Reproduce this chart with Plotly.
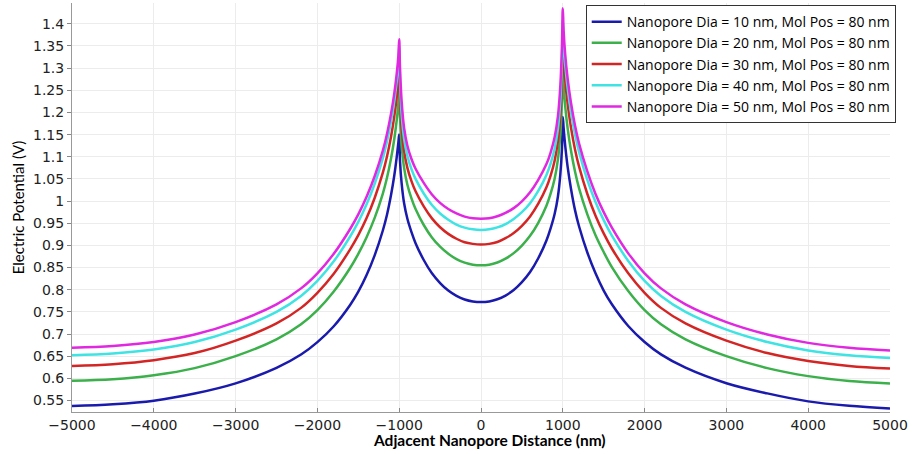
import plotly.graph_objects as go

# Adjacent nanopore distance (nm)
distance = [
    -5000, -4500, -4000, -3500, -3000, -2500, -2200, -2000, -1800, -1600,
    -1500, -1400, -1300, -1200, -1150, -1100, -1060, -1030, -1010, -1000,
    -990, -970, -940, -900, -850, -800, -700, -600, -500, -400, -300, -200, -100, 0,
    100, 200, 300, 400, 500, 600, 700, 800, 850, 900, 940, 970, 990, 1000,
    1010, 1030, 1060, 1100, 1150, 1200, 1300, 1400, 1500, 1600, 1800, 2000,
    2200, 2500, 3000, 3500, 4000, 4500, 5000,
]

# Electric potential (V) for each nanopore diameter
dia_10 = [
    0.5376, 0.5416, 0.5496, 0.5656, 0.5886, 0.6236, 0.6536, 0.6816, 0.7176, 0.7656,
    0.7956, 0.8326, 0.8776, 0.9336, 0.9686, 1.0136, 1.0576, 1.0996, 1.1326, 1.15,
    1.09, 1.04, 0.995, 0.96, 0.93, 0.905, 0.867, 0.837, 0.815, 0.798, 0.786, 0.778, 0.7735, 0.772,
    0.7735, 0.7784, 0.7868, 0.7992, 0.817, 0.8398, 0.871, 0.911, 0.938, 0.9708, 1.0098, 1.0608, 1.12, 1.19,
    1.165, 1.124, 1.076, 1.028, 0.979, 0.942, 0.884, 0.837, 0.798, 0.767, 0.718, 0.682,
    0.654, 0.624, 0.589, 0.566, 0.548, 0.538, 0.532,
]
dia_20 = [
    0.5945, 0.598, 0.607, 0.623, 0.650, 0.688, 0.722, 0.754, 0.796, 0.849,
    0.881, 0.918, 0.962, 1.017, 1.052, 1.096, 1.140, 1.183, 1.221, 1.26,
    1.19, 1.125, 1.075, 1.037, 1.006, 0.982, 0.946, 0.918, 0.897, 0.881, 0.869, 0.861, 0.8565, 0.855,
    0.8565, 0.8615, 0.870, 0.8825, 0.8995, 0.9215, 0.951, 0.9895, 1.016, 1.0505, 1.0935, 1.151, 1.2275, 1.31,
    1.261, 1.213, 1.163, 1.114, 1.066, 1.028, 0.970, 0.923, 0.885, 0.851, 0.797, 0.754,
    0.722, 0.688, 0.650, 0.623, 0.605, 0.594, 0.5885,
]
dia_30 = [
    0.628, 0.632, 0.641, 0.657, 0.685, 0.724, 0.759, 0.793, 0.836, 0.891,
    0.923, 0.961, 1.007, 1.064, 1.100, 1.145, 1.191, 1.235, 1.274, 1.31,
    1.235, 1.165, 1.113, 1.075, 1.045, 1.022, 0.988, 0.961, 0.941, 0.926, 0.915, 0.907, 0.9034, 0.902,
    0.9034, 0.9076, 0.9162, 0.9278, 0.944, 0.9652, 0.994, 1.031, 1.057, 1.0912, 1.1352, 1.1962, 1.28, 1.37,
    1.322, 1.271, 1.218, 1.166, 1.116, 1.077, 1.016, 0.967, 0.927, 0.893, 0.837, 0.793,
    0.759, 0.724, 0.685, 0.657, 0.639, 0.628, 0.622,
]
dia_40 = [
    0.652, 0.656, 0.665, 0.682, 0.710, 0.750, 0.786, 0.820, 0.864, 0.920,
    0.953, 0.992, 1.039, 1.097, 1.134, 1.180, 1.226, 1.271, 1.311, 1.35,
    1.27, 1.195, 1.14, 1.102, 1.072, 1.05, 1.017, 0.991, 0.972, 0.958, 0.947, 0.94, 0.9363, 0.935,
    0.9363, 0.9406, 0.9482, 0.9598, 0.975, 0.9952, 1.023, 1.059, 1.084, 1.1182, 1.1622, 1.2262, 1.315, 1.41,
    1.359, 1.307, 1.253, 1.201, 1.150, 1.110, 1.048, 0.998, 0.957, 0.922, 0.865, 0.820,
    0.786, 0.750, 0.710, 0.682, 0.663, 0.652, 0.646,
]
dia_50 = [
    0.669, 0.673, 0.682, 0.699, 0.727, 0.767, 0.803, 0.837, 0.881, 0.937,
    0.970, 1.009, 1.056, 1.114, 1.151, 1.197, 1.243, 1.288, 1.328, 1.365,
    1.30, 1.225, 1.165, 1.125, 1.095, 1.073, 1.041, 1.015, 0.996, 0.982, 0.972, 0.965, 0.961, 0.96,
    0.961, 0.9657, 0.9734, 0.9841, 0.9995, 1.0199, 1.048, 1.0835, 1.109, 1.1439, 1.1909, 1.2614, 1.3525, 1.435,
    1.384, 1.330, 1.275, 1.222, 1.170, 1.129, 1.067, 1.016, 0.975, 0.940, 0.882, 0.837,
    0.803, 0.767, 0.727, 0.699, 0.680, 0.669, 0.663,
]

series_names = [
    "Nanopore Dia = 10 nm, Mol Pos = 80 nm",
    "Nanopore Dia = 20 nm, Mol Pos = 80 nm",
    "Nanopore Dia = 30 nm, Mol Pos = 80 nm",
    "Nanopore Dia = 40 nm, Mol Pos = 80 nm",
    "Nanopore Dia = 50 nm, Mol Pos = 80 nm",
]
series_values = [dia_10, dia_20, dia_30, dia_40, dia_50]
series_colors = ["#1a1aad", "#3bb04b", "#d42525", "#3fe3e3", "#e028e0"]

y_ticks = [0.55, 0.6, 0.65, 0.7, 0.75, 0.8, 0.85, 0.9, 0.95, 1.0, 1.05, 1.1,
           1.15, 1.2, 1.25, 1.3, 1.35, 1.4]
y_tick_text = ["0.55", "0.6", "0.65", "0.7", "0.75", "0.8", "0.85", "0.9", "0.95",
               "1", "1.05", "1.1", "1.15", "1.2", "1.25", "1.3", "1.35", "1.4"]
x_ticks = [-5000, -4000, -3000, -2000, -1000, 0, 1000, 2000, 3000, 4000, 5000]

fig = go.Figure()
for name, values, color in zip(series_names, series_values, series_colors):
    fig.add_trace(go.Scatter(
        x=distance, y=values, mode="lines", name=name,
        line=dict(color=color, width=2.5, shape="spline", smoothing=1.0),
    ))

fig.update_layout(
    width=912, height=454,
    margin=dict(l=72, r=22, t=3, b=42),
    paper_bgcolor="white", plot_bgcolor="white",
    font=dict(family="DejaVu Sans", size=14, color="#222"),
    legend=dict(
        x=1.007, y=0.995, xanchor="right", yanchor="top",
        bgcolor="white", bordercolor="#333", borderwidth=1,
        font=dict(family="Open Sans", size=14, color="black"),
        tracegroupgap=0, itemwidth=30,
    ),
    showlegend=True,
    annotations=[dict(
        text="<b>Adjacent Nanopore Distance (nm)</b>",
        xref="paper", yref="paper", x=0.511, y=-0.068,
        xanchor="center", yanchor="middle", showarrow=False,
        font=dict(family="Lato", size=15.5, color="black"),
    )],
)
fig.update_xaxes(
    range=[-5000, 5000], tickvals=x_ticks, ticks="inside", ticklen=4,
    tickcolor="#888", showline=True, linecolor="#999", linewidth=1,
    showgrid=True, gridcolor="#ececec", gridwidth=1, zeroline=False,
    tickfont=dict(family="DejaVu Sans", size=14, color="#222"),
)
fig.update_yaxes(
    range=[0.524, 1.447], tickvals=y_ticks, ticktext=y_tick_text,
    ticks="outside", ticklen=4, tickcolor="#888",
    showline=True, linecolor="#999", linewidth=1,
    showgrid=True, gridcolor="#ececec", gridwidth=1, zeroline=False,
    tickfont=dict(family="DejaVu Sans", size=14, color="#222"),
    title=dict(text="Electric Potential (V)",
               font=dict(family="Lato", size=15, color="black"), standoff=4),
)

fig.write_html("out.html")
